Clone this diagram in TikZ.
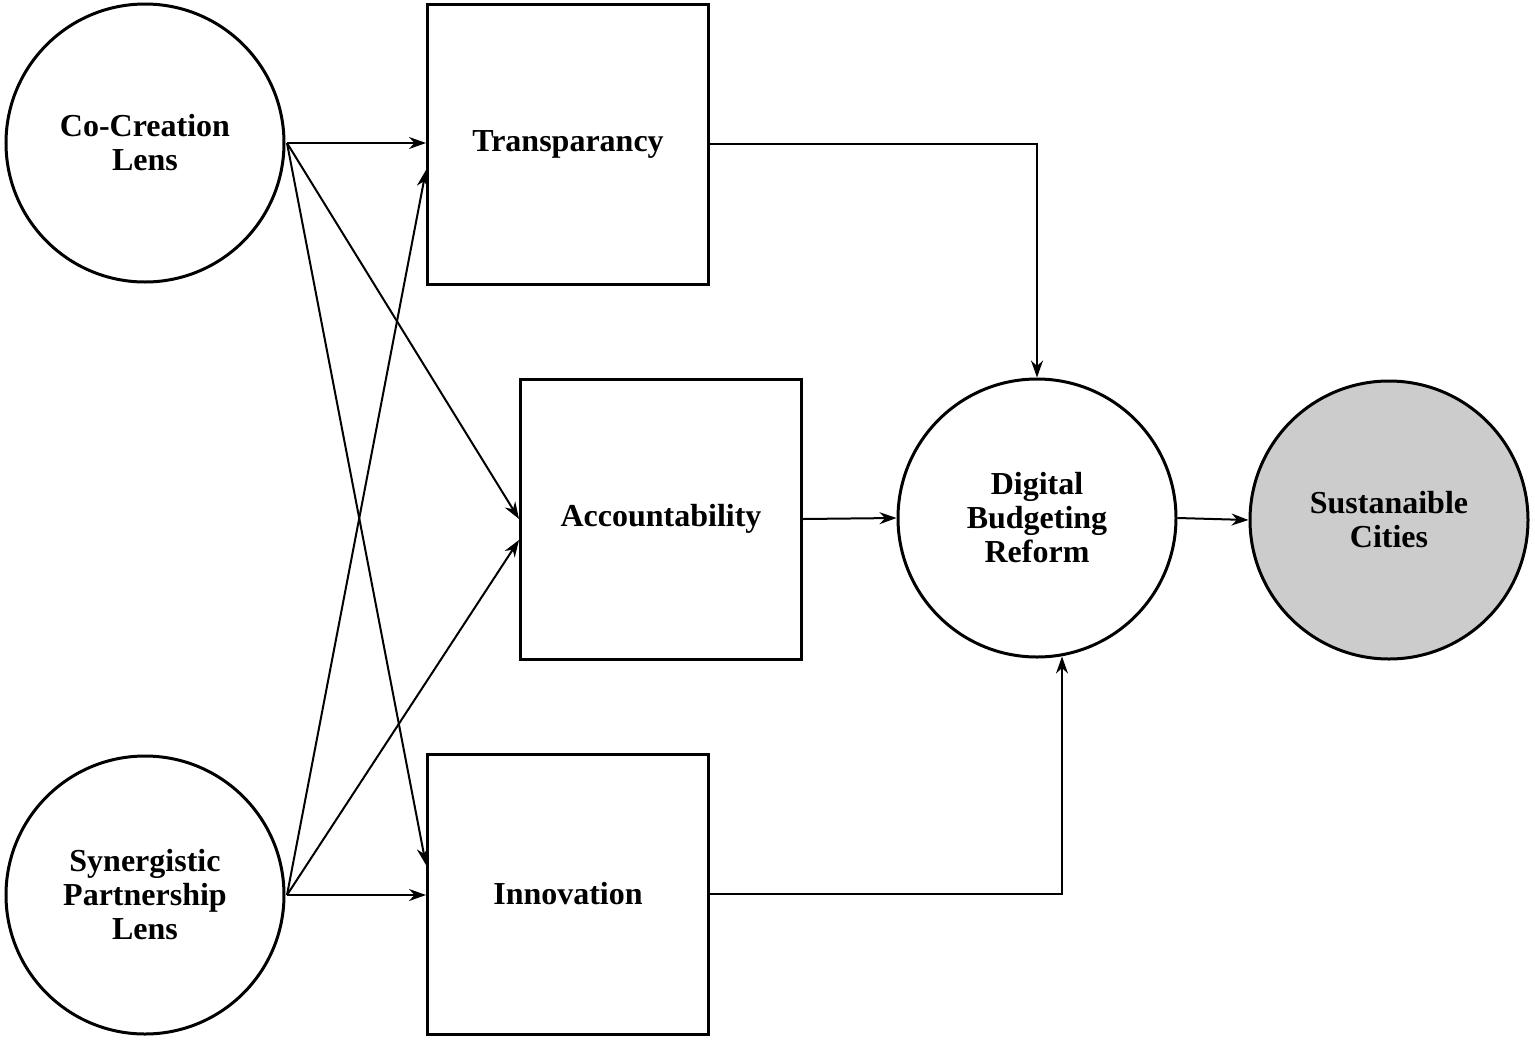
\documentclass[tikz,border=0pt]{standalone}
\usepackage{fontspec}
\setmainfont{Liberation Serif}
\usetikzlibrary{arrows.meta,calc}
\begin{document}
\begin{tikzpicture}[x=1pt,y=-1pt,
  circ/.style={circle,draw,line width=3pt,minimum size=278pt,inner sep=0pt,align=center,font=\fontsize{32}{34}\selectfont\bfseries},
  sq/.style={rectangle,draw,line width=3pt,minimum width=281pt,minimum height=280pt,inner sep=0pt,align=center,font=\fontsize{32}{34}\selectfont\bfseries},
  arr/.style={line width=2pt,-{Stealth[length=17pt,width=12pt]}}]
\useasboundingbox (0,0) rectangle (1535,1042);
\node[circ] (cc) at (145,143) {Co-Creation\\Lens};
\node[circ] (sp) at (145,895) {Synergistic\\Partnership\\Lens};
\node[sq] (tr) at (568,144) {Transparancy};
\node[sq] (ac) at (661,519) {Accountability};
\node[sq] (in) at (568,894) {Innovation};
\node[circ] (db) at (1037,518) {Digital\\Budgeting\\Reform};
\node[circ,fill=black!20] (sc) at (1389,520) {Sustanaible\\Cities};
\coordinate (cco) at (287,143);
\coordinate (spo) at (287,895);
\draw[arr] (cco) -- (tr.west|-cco);
\draw[arr] (cco) -- ($(ac.west)+(0,0)$);
\draw[arr] (cco) -- ($(in.west)+(0,-29)$);
\draw[arr] (spo) -- ($(tr.west)+(0,26)$);
\draw[arr] (spo) -- ($(ac.west)+(0,21)$);
\draw[arr] (spo) -- (in.west|-spo);
\draw[arr] (tr.east) -| (db.north);
\draw[arr] (ac.east) -- (db.west);
\draw[arr] (in.east) -| ($(db.south)+(25,-2)$);
\draw[arr] (db.east) -- (sc.west);
\end{tikzpicture}
\end{document}
